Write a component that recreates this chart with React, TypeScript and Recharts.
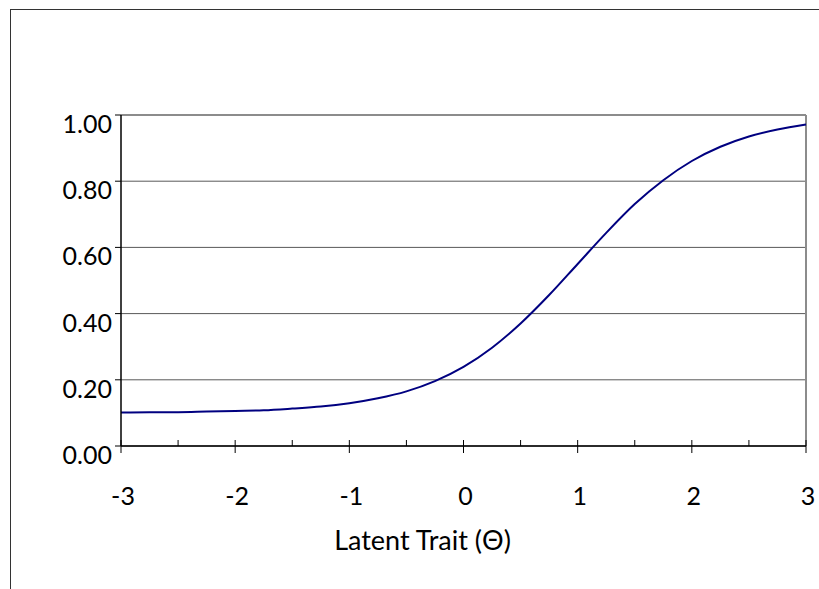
import { LineChart, Line, XAxis, YAxis, CartesianGrid, ReferenceLine } from 'recharts'

// ability levels (theta) and probability of a correct response
const theta = [
    -3, -2.75, -2.5, -2.25, -2, -1.75, -1.5, -1.25, -1, -0.75, -0.5, -0.25,
    0, 0.25, 0.5, 0.75, 1, 1.25, 1.5, 1.75, 2, 2.25, 2.5, 2.75, 3,
]
const prob = [
    0.101, 0.102, 0.102, 0.104, 0.106, 0.108, 0.113, 0.119, 0.129, 0.144, 0.165, 0.196,
    0.239, 0.297, 0.37, 0.456, 0.55, 0.644, 0.731, 0.803, 0.861, 0.904, 0.935, 0.956, 0.971,
]
const xTicks = [-3, -2.5, -2, -1.5, -1, -0.5, 0, 0.5, 1, 1.5, 2, 2.5, 3]
const yTicks = [0, 0.2, 0.4, 0.6, 0.8, 1]

const data = theta.map((t, i) => ({ theta: t, p: prob[i] }))

const font = 'Lato, "Open Sans", sans-serif'

function XTick(props: any) {
    const { x, y, payload } = props
    const v = payload.value
    const major = Number.isInteger(v)
    return (
        <g>
            <line x1={x} x2={x} y1={y - 6} y2={major ? y + 7 : y} stroke="#000" strokeWidth={1} />
            {major && (
                <text x={x + 2} y={y + 59} textAnchor="middle" fontSize={25} fontFamily={font} fill="#000">
                    {v}
                </text>
            )}
        </g>
    )
}

function YTick(props: any) {
    const { x, y, payload } = props
    return (
        <g>
            <line x1={x - 6} x2={x} y1={y} y2={y} stroke="#000" strokeWidth={1} />
            <text x={x - 9} y={y + 18} textAnchor="end" fontSize={25} fontFamily={font} fill="#000">
                {payload.value.toFixed(2)}
            </text>
        </g>
    )
}

export default function App() {
    return (
        <div style={{ position: 'absolute', left: 0, top: 0, width: 819, height: 589, background: '#fff', overflow: 'hidden' }}>
            <div style={{ position: 'absolute', left: 10, top: 9, width: 900, height: 700, border: '1.5px solid #333' }} />
            <div style={{ position: 'absolute', left: 0, top: 0 }}>
                <LineChart width={819} height={589} data={data} margin={{ top: 115, right: 13, left: 0, bottom: 0 }}>
                    <CartesianGrid vertical={false} stroke="#595959" strokeWidth={1} />
                    <XAxis
                        dataKey="theta"
                        type="number"
                        domain={[-3, 3]}
                        ticks={xTicks}
                        interval={0}
                        height={143}
                        tickSize={0}
                        tickMargin={0}
                        axisLine={{ stroke: '#000', strokeWidth: 1.5 }}
                        tickLine={false}
                        tick={XTick}
                        label={{ value: 'Latent Trait (Θ)', position: 'insideBottom', offset: 39, dx: -41, fontSize: 27, fontFamily: font, fill: '#000' }}
                    />
                    <YAxis
                        type="number"
                        domain={[0, 1]}
                        ticks={yTicks}
                        interval={0}
                        width={121}
                        tickSize={0}
                        tickMargin={0}
                        axisLine={{ stroke: '#000', strokeWidth: 1.5 }}
                        tickLine={false}
                        tick={YTick}
                    />
                    <ReferenceLine y={1} stroke="#8c8c8c" strokeWidth={2} />
                    <ReferenceLine x={3} stroke="#8c8c8c" strokeWidth={2} />
                    <Line dataKey="p" type="monotone" stroke="#000080" strokeWidth={2} dot={false} isAnimationActive={false} />
                </LineChart>
            </div>
        </div>
    )
}
